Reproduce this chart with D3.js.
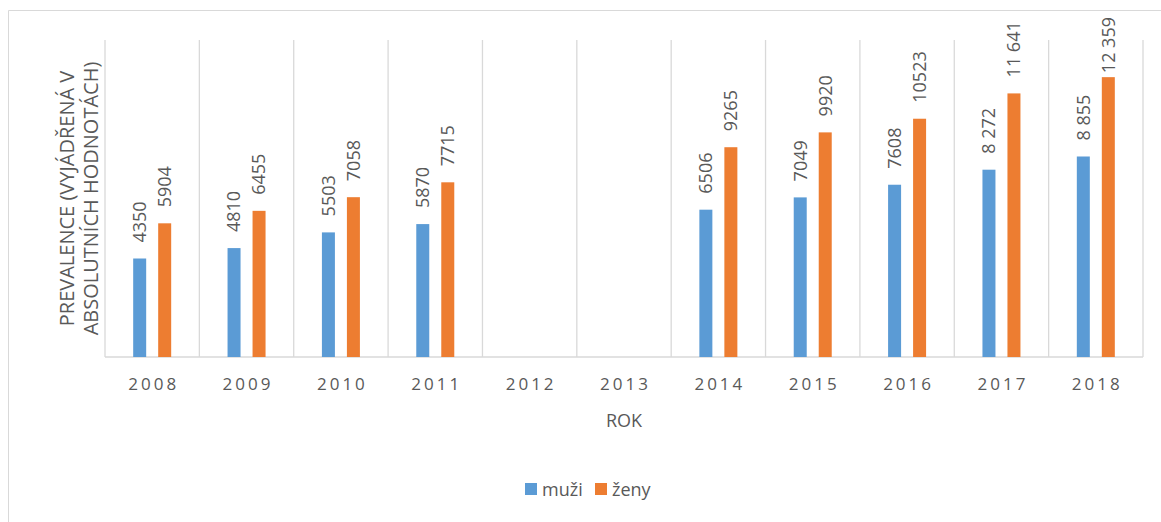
<!DOCTYPE html>
<html>
<head>
<meta charset="utf-8">
<script src="https://cdnjs.cloudflare.com/ajax/libs/d3/7.8.5/d3.min.js"></script>
<style>
  body { margin: 0; background: #fff; }
  text { font-family: "Open Sans", sans-serif; fill: #595959; }
</style>
</head>
<body>
<svg id="chart" width="1161" height="522"></svg>
<script>
// data (2012 and 2013 are empty)
var years = ["2008","2009","2010","2011","2012","2013","2014","2015","2016","2017","2018"];
var muzi = [4350, 4810, 5503, 5870, null, null, 6506, 7049, 7608, 8272, 8855];
var zeny = [5904, 6455, 7058, 7715, null, null, 9265, 9920, 10523, 11641, 12359];
var muziLabels = ["4350","4810","5503","5870","","","6506","7049","7608","8 272","8 855"];
var zenyLabels = ["5904","6455","7058","7715","","","9265","9920","10523","11 641","12 359"];
var seriesNames = ["muži", "ženy"];
var colors = ["#5B9BD5", "#ED7D31"];

var svg = d3.select("#chart");

// chart area border (left + top visible)
svg.append("path")
   .attr("d", "M8.5,522 L8.5,10.5 L1161,10.5")
   .attr("fill", "none")
   .attr("stroke", "#d9d9d9")
   .attr("stroke-width", 1);

var plotLeft = 105, plotRight = 1143, plotTop = 40, plotBottom = 357;

var x = d3.scaleBand()
          .domain(years)
          .range([plotLeft, plotRight]);

var y = d3.scaleLinear()
          .domain([0, 14000])
          .range([plotBottom, plotTop]);

// vertical category separators
var seps = d3.range(years.length + 1).map(function(i) { return plotLeft + i * x.step(); });
svg.selectAll(".sep")
   .data(seps)
   .enter().append("line")
   .attr("class", "sep")
   .attr("x1", function(d) { return d; })
   .attr("x2", function(d) { return d; })
   .attr("y1", plotTop)
   .attr("y2", plotBottom)
   .attr("stroke", "#d9d9d9")
   .attr("stroke-width", 1.3);

// baseline
svg.append("line")
   .attr("x1", plotLeft).attr("x2", plotRight)
   .attr("y1", plotBottom).attr("y2", plotBottom)
   .attr("stroke", "#d9d9d9")
   .attr("stroke-width", 1.3);

var barW = 13, offset = 12.5;

var rows = years.map(function(yr, i) {
  return { year: yr, vals: [muzi[i], zeny[i]], labels: [muziLabels[i], zenyLabels[i]] };
});

rows.forEach(function(r) {
  var cx = x(r.year) + x.bandwidth() / 2;
  r.vals.forEach(function(v, s) {
    if (v == null) return;
    var bx = cx + (s == 0 ? -offset : offset);
    svg.append("rect")
       .attr("x", bx - barW / 2)
       .attr("y", y(v))
       .attr("width", barW)
       .attr("height", plotBottom - y(v))
       .attr("fill", colors[s]);
    var t = svg.append("text")
       .attr("dy", "0.35em")
       .style("font-size", "18px")
       .text(r.labels[s]);
    // keep label inside the chart area, like Excel does
    var len = t.node().getComputedTextLength();
    var start = Math.max(y(v) - 16, 17 + len);
    t.attr("transform", "translate(" + bx + "," + start + ") rotate(-90)");
  });
});

// x tick labels
svg.selectAll(".tick-label")
   .data(years)
   .enter().append("text")
   .attr("class", "tick-label")
   .attr("x", function(d) { return x(d) + x.bandwidth() / 2 + 1.5; })
   .attr("y", 390)
   .attr("text-anchor", "middle")
   .style("font-size", "17px")
   .style("letter-spacing", "3px")
   .text(function(d) { return d; });

// x axis title
svg.append("text")
   .attr("x", (plotLeft + plotRight) / 2)
   .attr("y", 427)
   .attr("text-anchor", "middle")
   .style("font-size", "18px")
   .text("ROK");

// y axis title, two lines
var ty = svg.append("text")
   .attr("transform", "translate(78.5," + ((plotTop + plotBottom) / 2) + ") rotate(-90)")
   .attr("text-anchor", "middle")
   .style("font-size", "20px");
ty.append("tspan").attr("x", 0).attr("dy", "-4.5").text("PREVALENCE (VYJÁDŘENÁ V");
ty.append("tspan").attr("x", 0).attr("dy", "23.5").text("ABSOLUTNÍCH HODNOTÁCH)");

// legend
var legend = svg.append("g").attr("transform", "translate(525,490)");
var lx = [0, 70];
seriesNames.forEach(function(n, i) {
  legend.append("rect")
        .attr("x", lx[i]).attr("y", -7)
        .attr("width", 12).attr("height", 12)
        .attr("fill", colors[i]);
  legend.append("text")
        .attr("x", lx[i] + 17).attr("y", 0)
        .attr("dy", "0.35em")
        .style("font-size", "18px")
        .text(n);
});
</script>
</body>
</html>
